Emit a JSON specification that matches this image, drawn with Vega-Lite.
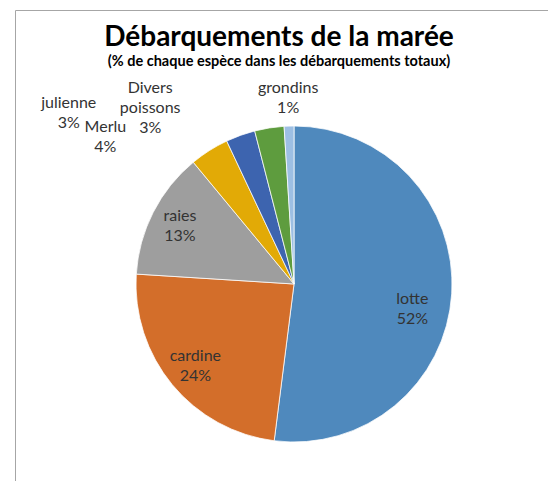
{
  "$schema": "https://vega.github.io/schema/vega-lite/v6.json",
  "width": 558,
  "height": 548,
  "autosize": {"type": "none"},
  "padding": {"left": 15, "top": 10, "right": 0, "bottom": 0},
  "background": "white",
  "view": {"stroke": "#a6a6a6", "strokeWidth": 1, "fill": "white"},
  "config": {
    "text": {"font": "Lato"}
  },
  "title": {
    "text": "Débarquements de la marée",
    "subtitle": "(% de chaque espèce dans les débarquements totaux)",
    "font": "Lato",
    "fontSize": 28,
    "fontWeight": "bold",
    "color": "#000000",
    "subtitleFont": "Lato",
    "subtitleFontSize": 14.5,
    "subtitleFontWeight": "bold",
    "subtitleColor": "#000000",
    "subtitlePadding": 3,
    "anchor": "middle",
    "dx": -15,
    "offset": -58
  },
  "data": {
    "values": [
      {"espece": "lotte", "pct": 52, "ordre": 1, "etiquette": ["lotte", "52%"]},
      {"espece": "cardine", "pct": 24, "ordre": 2, "etiquette": ["cardine", "24%"]},
      {"espece": "raies", "pct": 13, "ordre": 3, "etiquette": ["raies", "13%"]},
      {"espece": "Merlu", "pct": 4, "ordre": 4, "etiquette": ["Merlu", "4%"]},
      {"espece": "julienne", "pct": 3, "ordre": 5, "etiquette": ["julienne", "3%"]},
      {"espece": "Divers poissons", "pct": 3, "ordre": 6, "etiquette": ["Divers", "poissons", "3%"]},
      {"espece": "grondins", "pct": 1, "ordre": 7, "etiquette": ["grondins", "1%"]}
    ]
  },
  "encoding": {
    "theta": {"field": "pct", "type": "quantitative", "stack": true},
    "order": {"field": "ordre", "type": "quantitative"},
    "detail": {"field": "espece", "type": "nominal"}
  },
  "layer": [
    {
      "mark": {"type": "arc", "outerRadius": 158, "stroke": "#ffffff", "strokeWidth": 0.75},
      "encoding": {
        "color": {
          "field": "espece",
          "type": "nominal",
          "scale": {
            "domain": ["lotte", "cardine", "raies", "Merlu", "julienne", "Divers poissons", "grondins"],
            "range": ["#4F89BD", "#D36E2A", "#9E9E9E", "#E2AA06", "#3D64AF", "#5E9C3E", "#9DBFE3"]
          },
          "legend": null
        }
      }
    },
    {
      "mark": {"type": "text", "radius": 121, "thetaOffset": 0.147, "dy": -10, "fontSize": 16, "lineHeight": 20, "color": "#333333"},
      "encoding": {"text": {"condition": {"test": "datum.espece === 'lotte'", "field": "etiquette", "type": "nominal"}, "value": ""}}
    },
    {
      "mark": {"type": "text", "radius": 128, "dy": -10, "fontSize": 16, "lineHeight": 20, "color": "#333333"},
      "encoding": {"text": {"condition": {"test": "datum.espece === 'cardine' || datum.espece === 'raies'", "field": "etiquette", "type": "nominal"}, "value": ""}}
    },
    {
      "mark": {"type": "text", "radius": 239, "thetaOffset": -0.344, "dy": -10, "fontSize": 16, "lineHeight": 20, "color": "#333333"},
      "encoding": {"text": {"condition": {"test": "datum.espece === 'Merlu'", "field": "etiquette", "type": "nominal"}, "value": ""}}
    },
    {
      "mark": {"type": "text", "radius": 283, "thetaOffset": -0.575, "dy": -10, "fontSize": 16, "lineHeight": 20, "color": "#333333"},
      "encoding": {"text": {"condition": {"test": "datum.espece === 'julienne'", "field": "etiquette", "type": "nominal"}, "value": ""}}
    },
    {
      "mark": {"type": "text", "radius": 227, "thetaOffset": -0.529, "dy": -20, "fontSize": 16, "lineHeight": 20, "color": "#333333"},
      "encoding": {"text": {"condition": {"test": "datum.espece === 'Divers poissons'", "field": "etiquette", "type": "nominal"}, "value": ""}}
    },
    {
      "mark": {"type": "text", "radius": 186, "dy": -10, "fontSize": 16, "lineHeight": 20, "color": "#333333"},
      "encoding": {"text": {"condition": {"test": "datum.espece === 'grondins'", "field": "etiquette", "type": "nominal"}, "value": ""}}
    }
  ]
}
